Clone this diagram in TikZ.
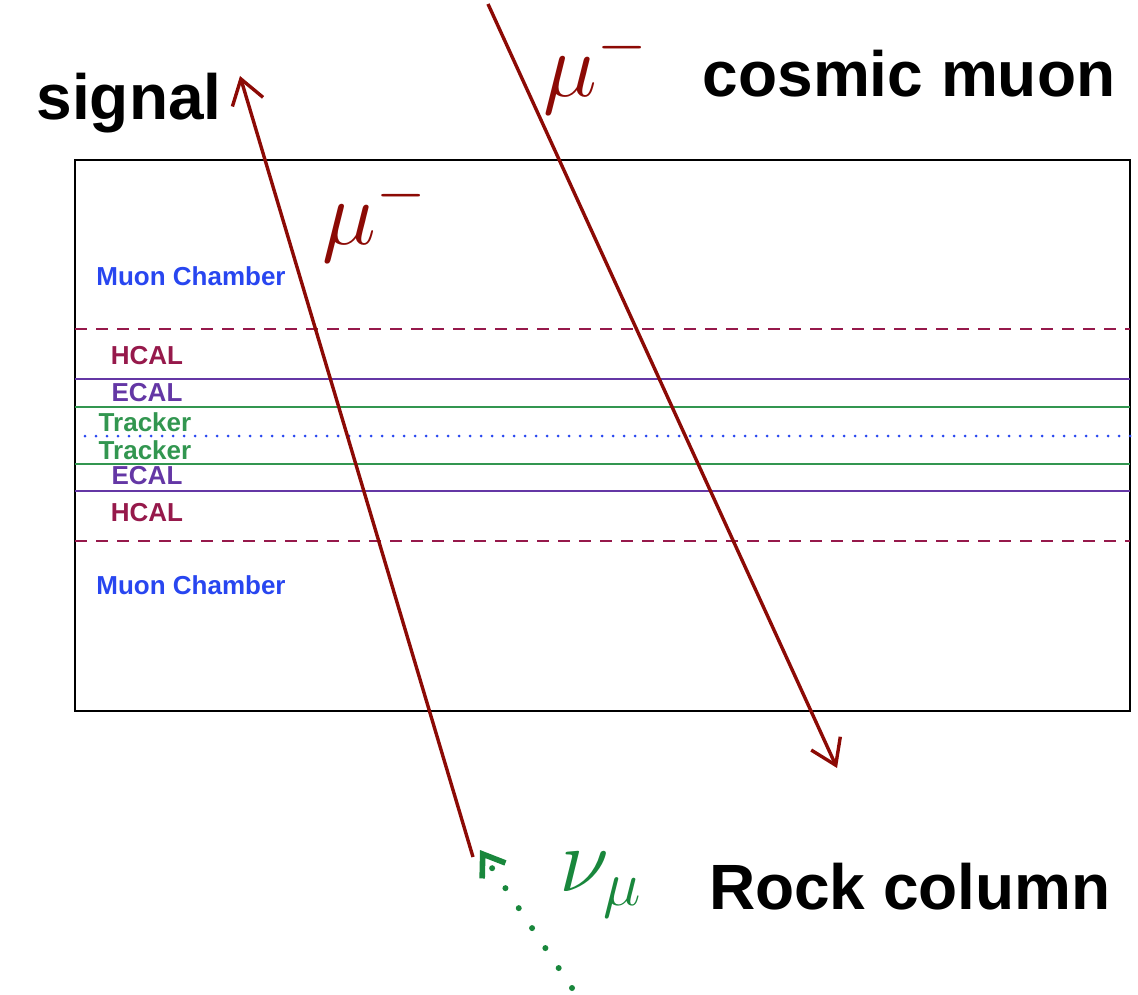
\documentclass[tikz,border=0pt]{standalone}
\usepackage{fontspec}
\setmainfont{Liberation Sans}
\usetikzlibrary{arrows.meta}
\definecolor{muonred}{RGB}{140,10,5}
\definecolor{hcalc}{RGB}{150,25,75}
\definecolor{ecalc}{RGB}{100,55,165}
\definecolor{trackc}{RGB}{50,150,80}
\definecolor{bluec}{RGB}{40,70,240}
\definecolor{nugreen}{RGB}{25,135,60}
\newcommand{\bigmath}[1]{\scalebox{2.2}{\fontsize{20.74}{24}\selectfont$#1$}}
\tikzset{
  biglabel/.style={font=\fontsize{32}{38}\selectfont\bfseries, text=black, inner sep=0pt},
  small/.style={font=\fontsize{13}{15}\selectfont\bfseries, inner sep=0pt},
  mulabel/.style={inner sep=0pt},
  muline/.style={draw=muonred, line width=1.7pt, -{Straight Barb[length=12pt,width=16pt,line width=1.7pt]}},
  hcalline/.style={draw=hcalc, line width=1.4pt, dash pattern=on 6pt off 4.5pt},
  ecalline/.style={draw=ecalc, line width=1.4pt},
  trackline/.style={draw=trackc, line width=0.9pt},
  midline/.style={draw=bluec, line width=1.5pt, line cap=round, dash pattern=on 0pt off 5.5pt},
}
\begin{document}
\begin{tikzpicture}[x=0.5pt,y=-0.5pt]
\useasboundingbox (0,0) rectangle (1138,994);
% detector box
\draw[line width=1pt] (75,160) rectangle (1130,711);
% layer lines
\draw[hcalline] (75,329) -- (1130,329);
\draw[hcalline] (75,541) -- (1130,541);
\draw[ecalline] (75,379) -- (1130,379);
\draw[ecalline] (75,491) -- (1130,491);
\draw[trackline] (75,407) -- (1130,407);
\draw[trackline] (75,464) -- (1130,464);
\draw[midline] (85,436) -- (1130,436);
% layer labels
\node[small, text=bluec] (mc1) at (191,276) {Muon Chamber};
\node[small, text=hcalc] (h1) at (147,356) {HCAL};
\node[small, text=ecalc] (e1) at (147,393) {ECAL};
\node[small, text=trackc] (t1) at (145,422) {Tracker};
\node[small, text=trackc] (t2) at (145,450) {Tracker};
\node[small, text=ecalc] (e2) at (147,476) {ECAL};
\node[small, text=hcalc] (h2) at (147,513) {HCAL};
\node[small, text=bluec] (mc2) at (191,585) {Muon Chamber};
% endpoints
\coordinate (sigstart) at (473,857);
\coordinate (sigend) at (240,76);
\coordinate (cosstart) at (488,4);
\coordinate (cosend) at (837,768);
\coordinate (nustart) at (572,988);
\coordinate (nuend) at (480,850);
% tracks
\draw[muline] (sigstart) -- (sigend);
\draw[muline] (cosstart) -- (cosend);
\draw[draw=nugreen, line width=3pt, line cap=round, dash pattern=on 0pt off 12pt, -{Straight Barb[length=10pt,width=14pt,line width=2.8pt]}] (nustart) -- (nuend);
% labels
\node[biglabel] (signal) at (129,103) {signal};
\node[biglabel] (cosmic) at (909,74) {cosmic muon};
\node[biglabel] (rock) at (910,887) {Rock column};
\node[mulabel, text=muonred] (mu1) at (375,218) {\bigmath{\mu^-}};
\node[mulabel, text=muonred] (mu2) at (596,70) {\bigmath{\mu^-}};
\node[mulabel, text=nugreen] (nu) at (601,885) {\bigmath{\nu_\mu}};
\end{tikzpicture}
\end{document}
